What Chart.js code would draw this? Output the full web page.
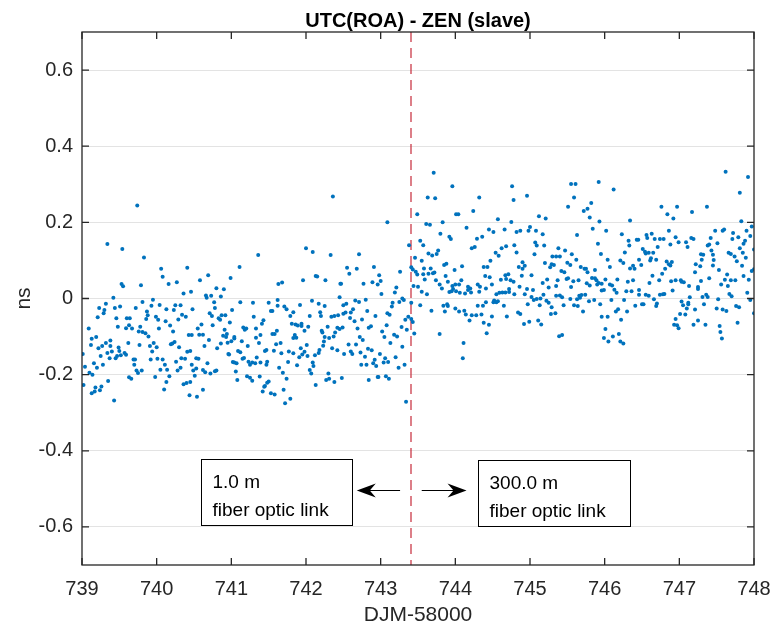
<!DOCTYPE html>
<html>
<head>
<meta charset="utf-8">
<script src="https://cdn.jsdelivr.net/npm/chart.js@4"></script>
<style>
  html, body { margin: 0; padding: 0; background: #fff; }
  canvas { display: block; }
</style>
</head>
<body>
<canvas id="chart" width="774" height="630"></canvas>
<script>
// UTC(ROA) - ZEN time offset, [DJM-58000, ns]
// before the fibre swap (1.0 m link)
const shortLink = [
  [739.74,0.244],[739.34,0.143],[739.54,0.130],[739.83,0.108],[740.06,0.078],[740.08,0.057],[740.41,0.081],[740.16,0.038],
  [740.27,0.043],[739.53,0.038],[739.55,0.032],[739.79,0.035],[740.36,0.013],[740.46,0.018],[739.42,0.002],[739.81,-0.009],
  [739.95,-0.003],[740.04,-0.017],[739.32,-0.014],[739.23,-0.025],[739.30,-0.030],[739.29,-0.039],[739.44,-0.025],[739.51,-0.021],
  [739.72,-0.025],[739.93,-0.019],[740.13,-0.028],[740.23,-0.030],[740.25,-0.018],[740.32,-0.018],[740.48,-0.028],[739.21,-0.049],
  [739.46,-0.052],[739.60,-0.052],[739.64,-0.052],[739.87,-0.034],[739.88,-0.044],[739.86,-0.054],[739.99,-0.048],[740.02,-0.056],
  [740.12,-0.060],[740.18,-0.071],[740.34,-0.043],[740.39,-0.048],[740.29,-0.055],[739.09,-0.079],[739.48,-0.074],[739.59,-0.078],
  [739.63,-0.070],[739.67,-0.079],[739.78,-0.074],[739.76,-0.087],[739.81,-0.088],[739.85,-0.091],[740.03,-0.079],[740.22,-0.087],
  [739.89,-0.100],[740.43,-0.096],[739.13,-0.106],[739.19,-0.101],[739.12,-0.122],[739.22,-0.131],[739.27,-0.125],[739.32,-0.117],
  [739.38,-0.110],[739.38,-0.125],[739.62,-0.117],[739.77,-0.122],[739.91,-0.125],[739.96,-0.117],[740.00,-0.128],[740.19,-0.120],
  [740.21,-0.118],[740.24,-0.114],[740.30,-0.128],[739.34,-0.143],[739.40,-0.139],[739.49,-0.129],[739.50,-0.138],[739.45,-0.157],
  [739.47,-0.151],[739.52,-0.149],[739.57,-0.143],[739.59,-0.148],[739.94,-0.139],[740.41,-0.140],[739.25,-0.151],[739.37,-0.157],
  [739.01,-0.146],[739.69,-0.160],[739.71,-0.160],[739.92,-0.160],[740.01,-0.158],[740.08,-0.160],[740.26,-0.166],[740.33,-0.157],
  [740.38,-0.158],[740.53,-0.157],[739.16,-0.170],[739.20,-0.182],[739.28,-0.174],[739.70,-0.174],[740.11,-0.174],[740.05,-0.187],
  [740.14,-0.187],[740.32,-0.182],[740.28,-0.189],[739.04,-0.179],[739.10,-0.195],[739.14,-0.200],[739.73,-0.189],[739.75,-0.196],
  [739.80,-0.189],[740.47,-0.174],[740.49,-0.189],[740.51,-0.203],[739.98,-0.206],[740.17,-0.204],[739.63,-0.207],[739.66,-0.211],
  [739.35,-0.217],[740.13,-0.219],[739.02,-0.227],[740.36,-0.225],[740.40,-0.222],[740.45,-0.219],[739.18,-0.234],[739.26,-0.231],
  [739.24,-0.241],[739.17,-0.244],[739.13,-0.249],[740.10,-0.239],[740.44,-0.254],[739.43,-0.268],
  [741.36,0.114],[741.11,0.083],[740.69,0.061],[740.58,0.048],[740.99,0.054],[740.80,0.027],[740.90,0.024],[740.66,0.008],
  [740.67,0.002],[740.73,0.007],[740.86,0.005],[741.63,0.038],[741.68,0.042],[741.62,-0.004],[741.62,-0.019],[740.77,-0.010],
  [740.78,-0.025],[740.71,-0.039],[740.74,-0.046],[741.12,-0.010],[741.29,-0.011],[741.50,-0.011],[741.53,-0.033],[741.55,-0.033],
  [741.71,-0.021],[741.74,-0.028],[741.01,-0.030],[741.30,-0.048],[741.79,-0.046],[741.83,-0.036],[740.87,-0.044],[740.92,-0.044],
  [740.83,-0.052],[740.85,-0.056],[740.75,-0.070],[740.60,-0.068],[740.98,-0.063],[740.91,-0.082],[740.94,-0.093],[740.89,-0.098],
  [740.93,-0.101],[741.16,-0.076],[741.18,-0.082],[741.20,-0.079],[741.33,-0.079],[741.43,-0.057],[741.41,-0.066],[741.33,-0.103],
  [741.39,-0.096],[741.55,-0.093],[741.58,-0.093],[741.61,-0.085],[741.81,-0.066],[741.86,-0.068],[741.89,-0.071],[741.85,-0.096],
  [741.87,-0.103],[741.83,-0.104],[740.57,-0.095],[740.62,-0.095],[740.47,-0.096],[740.55,-0.079],[740.70,-0.109],[740.64,-0.125],
  [740.81,-0.131],[740.86,-0.118],[740.95,-0.116],[741.00,-0.112],[741.04,-0.101],[741.04,-0.105],[741.14,-0.112],[741.22,-0.125],
  [741.37,-0.117],[741.60,-0.120],[741.66,-0.117],[740.96,-0.146],[740.97,-0.147],[741.09,-0.138],[741.12,-0.141],[741.15,-0.158],
  [741.17,-0.156],[741.45,-0.138],[741.47,-0.135],[741.57,-0.137],[741.77,-0.139],[741.83,-0.144],[741.67,-0.144],[741.91,-0.154],
  [740.45,-0.138],[740.56,-0.158],[741.02,-0.167],[741.07,-0.170],[741.04,-0.168],[741.23,-0.166],[741.25,-0.174],[741.28,-0.168],
  [741.32,-0.170],[741.39,-0.168],[741.48,-0.166],[741.47,-0.174],[741.34,-0.155],[741.64,-0.182],[741.76,-0.167],[741.88,-0.175],
  [740.53,-0.184],[740.62,-0.188],[740.65,-0.194],[740.68,-0.170],[740.78,-0.191],[740.80,-0.189],[740.72,-0.197],[741.06,-0.192],
  [741.21,-0.204],[741.25,-0.208],[741.28,-0.216],[741.08,-0.214],[741.38,-0.205],[741.69,-0.195],[741.74,-0.211],[741.50,-0.218],
  [741.48,-0.221],[741.45,-0.230],[741.44,-0.232],[741.42,-0.244],[741.53,-0.249],[741.58,-0.252],[741.70,-0.240],[741.79,-0.263],
  [741.72,-0.275],[740.54,-0.258],[740.62,-0.240],
  [742.36,0.268],[743.09,0.200],[743.38,0.140],[742.00,0.132],[742.09,0.122],[742.33,0.114],[742.71,0.116],[742.55,0.081],
  [742.68,0.078],[742.91,0.083],[743.26,0.070],[742.58,0.065],[742.98,0.061],[741.96,0.048],[742.13,0.059],[742.15,0.058],
  [742.26,0.048],[742.46,0.039],[742.47,0.039],[742.77,0.039],[742.89,0.043],[742.96,0.037],[743.00,0.046],[743.21,0.029],
  [743.19,0.016],[743.01,0.012],[742.45,0.003],[741.92,-0.017],[742.08,-0.006],[742.17,-0.014],[742.25,-0.020],[742.50,-0.018],
  [742.54,-0.014],[742.66,-0.005],[742.71,-0.009],[742.80,-0.003],[743.16,-0.011],[743.25,-0.009],[743.29,0.000],[743.31,-0.004],
  [742.19,-0.036],[742.20,-0.046],[742.05,-0.046],[742.34,-0.048],[742.38,-0.046],[742.43,-0.044],[742.50,-0.040],[742.53,-0.037],
  [742.59,-0.051],[742.63,-0.028],[742.60,-0.037],[742.65,-0.060],[742.75,-0.055],[742.82,-0.033],[742.93,-0.046],[743.09,-0.039],
  [743.12,-0.043],[743.15,-0.021],[743.33,-0.056],[743.37,-0.048],[741.94,-0.066],[741.94,-0.072],[741.98,-0.085],[742.03,-0.074],
  [742.21,-0.085],[742.22,-0.089],[742.29,-0.074],[742.25,-0.101],[742.31,-0.104],[742.37,-0.100],[742.39,-0.089],[742.42,-0.077],
  [742.45,-0.080],[742.49,-0.076],[742.69,-0.079],[742.72,-0.101],[742.76,-0.109],[742.84,-0.077],[742.87,-0.073],[743.02,-0.087],
  [743.05,-0.101],[743.08,-0.070],[743.13,-0.117],[743.18,-0.095],[743.22,-0.100],[743.28,-0.075],[743.35,-0.082],[741.93,-0.131],
  [742.01,-0.122],[741.98,-0.140],[742.02,-0.151],[741.95,-0.147],[742.12,-0.149],[742.17,-0.143],[742.18,-0.135],[742.23,-0.124],
  [742.24,-0.113],[742.35,-0.131],[742.42,-0.136],[742.51,-0.146],[742.57,-0.121],[742.60,-0.139],[742.62,-0.146],[742.67,-0.121],
  [742.73,-0.142],[742.79,-0.153],[742.83,-0.132],[742.88,-0.136],[742.99,-0.146],[743.06,-0.157],[743.04,-0.168],[742.92,-0.161],
  [742.90,-0.170],[742.94,-0.177],[742.74,-0.174],[742.81,-0.174],[743.20,-0.154],[743.24,-0.182],[743.29,-0.127],[743.32,-0.174],
  [743.10,-0.167],[742.09,-0.168],[742.10,-0.177],[742.05,-0.188],[742.07,-0.197],[742.13,-0.227],[742.30,-0.197],[742.27,-0.214],
  [742.31,-0.211],[742.38,-0.219],[742.48,-0.209],[742.84,-0.214],[742.96,-0.206],[742.97,-0.206],[743.07,-0.204],[743.11,-0.211],
  [743.34,-0.271]
];

// after the swap (300.0 m link)
const longLink = [
  [743.71,0.330],[743.96,0.295],[744.76,0.295],[743.63,0.265],[743.73,0.263],[744.32,0.265],[744.78,0.259],[743.49,0.221],
  [744.01,0.221],[744.04,0.221],[744.24,0.230],[744.57,0.208],[744.75,0.201],[743.61,0.196],[743.66,0.194],[743.83,0.200],
  [744.15,0.186],[744.45,0.181],[744.51,0.175],[744.66,0.181],[744.82,0.175],[744.87,0.178],[743.80,0.170],[743.92,0.162],
  [743.94,0.156],[744.29,0.157],[744.36,0.162],[743.53,0.152],[743.57,0.140],[744.79,0.140],[744.22,0.132],[744.26,0.135],
  [744.62,0.132],[744.68,0.137],[743.77,0.126],[743.75,0.117],[743.64,0.118],[743.69,0.113],[744.82,0.121],[743.46,0.107],
  [743.55,0.099],[743.85,0.088],[743.88,0.091],[744.09,0.085],[744.47,0.099],[744.54,0.120],[744.58,0.112],[744.90,0.095],
  [744.93,0.086],[743.58,0.079],[743.67,0.079],[743.72,0.068],[743.70,0.066],[743.99,0.075],[744.38,0.083],[744.43,0.083],
  [744.85,0.083],[744.89,0.060],[743.41,0.082],[743.43,0.076],[743.47,0.070],[743.49,0.063],[743.57,0.064],[743.64,0.065],
  [743.87,0.059],[744.40,0.059],[744.46,0.056],[744.67,0.061],[744.71,0.064],[744.68,0.051],[744.74,0.048],[744.78,0.044],
  [743.59,0.050],[743.74,0.048],[743.79,0.037],[743.82,0.026],[743.90,0.044],[743.96,0.033],[744.00,0.037],[744.05,0.037],
  [744.08,0.048],[744.49,0.037],[744.61,0.049],[744.86,0.031],[743.44,0.033],[743.50,0.031],[743.97,0.025],[743.95,0.019],
  [744.01,0.019],[743.92,0.017],[744.06,0.015],[744.13,0.013],[744.17,0.031],[744.20,0.026],[744.17,0.022],[744.21,0.016],
  [744.30,0.037],[744.33,0.031],[744.32,0.018],[744.41,0.026],[744.55,0.011],[744.59,0.015],[744.63,0.016],[744.67,0.016],
  [744.72,0.025],[744.72,0.017],[744.79,0.011],[744.93,0.011],[743.55,0.018],[743.62,0.011],[743.41,-0.011],[743.53,-0.018],
  [743.68,-0.032],[743.84,-0.019],[743.89,-0.015],[743.90,-0.020],[743.86,-0.034],[744.00,-0.026],[744.05,-0.034],[744.12,-0.032],
  [744.14,-0.042],[744.19,-0.058],[744.11,-0.117],[744.10,-0.157],[744.22,-0.044],[744.28,-0.044],[744.30,-0.019],[744.35,-0.042],
  [744.37,-0.019],[744.38,-0.064],[744.45,-0.069],[744.41,-0.010],[744.42,-0.091],[744.49,-0.047],[744.51,-0.010],[744.52,-0.005],
  [744.55,-0.010],[744.57,-0.007],[744.65,-0.019],[744.69,-0.047],[744.84,-0.037],[744.87,-0.041],[744.92,-0.067],[743.41,-0.054],
  [743.43,-0.062],[743.45,-0.092],[743.79,-0.093],
  [745.55,0.301],[745.61,0.301],[745.92,0.306],[746.12,0.286],[744.96,0.270],[745.59,0.265],[745.82,0.251],[745.51,0.241],
  [745.72,0.230],[745.77,0.236],[745.80,0.213],[745.12,0.216],[745.21,0.210],[745.93,0.202],[746.34,0.205],[745.00,0.188],
  [744.98,0.178],[745.08,0.178],[745.17,0.169],[745.84,0.183],[746.02,0.178],[745.63,0.167],[746.23,0.169],[746.32,0.152],
  [746.33,0.139],[745.91,0.144],[745.07,0.147],[745.09,0.139],[745.19,0.139],[745.38,0.132],[745.47,0.126],[745.56,0.116],
  [746.27,0.121],[745.06,0.116],[745.95,0.117],[745.30,0.110],[745.35,0.110],[745.40,0.110],[745.62,0.102],[746.04,0.102],
  [746.21,0.100],[746.25,0.093],[745.20,0.093],[745.50,0.094],[745.54,0.088],[746.07,0.083],[745.29,0.090],[745.32,0.088],
  [745.27,0.082],[744.90,0.078],[745.68,0.083],[745.73,0.078],[745.75,0.078],[746.38,0.086],[746.40,0.078],[746.34,0.079],
  [745.42,0.072],[745.46,0.069],[745.87,0.075],[745.77,0.069],[745.02,0.061],[745.83,0.054],[745.87,0.053],[745.89,0.048],
  [745.49,0.051],[745.51,0.053],[745.58,0.045],[745.65,0.048],[745.37,0.048],[745.23,0.050],[745.17,0.041],[746.01,0.050],
  [746.17,0.050],[746.31,0.044],[746.38,0.048],[745.76,0.040],[745.80,0.034],[745.96,0.039],[745.90,0.037],[745.92,0.041],
  [746.07,0.037],[746.10,0.034],[744.96,0.025],[745.25,0.029],[745.35,0.033],[745.55,0.030],[746.13,0.023],[746.16,0.015],
  [745.04,0.022],[745.96,0.021],[745.99,0.022],[746.29,0.019],[746.36,0.019],[745.18,0.010],[745.14,0.000],[745.02,0.004],
  [745.05,-0.004],[745.09,-0.001],[745.35,0.007],[745.40,0.008],[745.43,0.003],[745.54,-0.001],[745.66,0.007],[745.69,0.009],
  [745.74,0.010],[745.67,0.002],[745.63,-0.002],[745.59,-0.018],[745.64,-0.020],[745.79,-0.007],[745.86,-0.004],[746.09,-0.004],
  [746.26,-0.004],[745.22,-0.006],[745.25,-0.011],[745.13,-0.018],[744.97,-0.015],[745.29,-0.023],[745.45,-0.018],[745.94,-0.015],
  [746.41,-0.019],[745.34,-0.039],[745.28,-0.041],[745.71,-0.034],[746.15,-0.034],[746.18,-0.028],[746.30,-0.034],[745.96,-0.048],
  [746.04,-0.048],[746.22,-0.056],[744.99,-0.061],[745.11,-0.058],[745.15,-0.068],[746.01,-0.080],[745.39,-0.099],[745.43,-0.096],
  [745.99,-0.104],[746.05,-0.113],[746.11,-0.100],[746.19,-0.093],[746.21,-0.113],[746.25,-0.118],
  [747.62,0.333],[747.92,0.319],[747.81,0.278],[746.76,0.241],[746.97,0.241],[747.37,0.241],[746.84,0.221],[747.17,0.227],
  [746.92,0.210],[747.83,0.203],[747.97,0.189],[746.86,0.178],[747.90,0.178],[747.48,0.178],[747.58,0.178],[747.60,0.181],
  [746.63,0.170],[746.56,0.167],[746.57,0.159],[747.72,0.172],[747.95,0.164],[747.79,0.161],[747.71,0.156],[746.95,0.161],
  [746.67,0.156],[746.74,0.156],[746.79,0.156],[747.16,0.159],[747.19,0.156],[747.42,0.159],[746.43,0.154],[746.45,0.154],
  [746.99,0.148],[747.09,0.148],[747.88,0.152],[747.86,0.144],[746.88,0.142],[747.51,0.145],[747.40,0.142],[747.38,0.139],
  [747.11,0.135],[747.43,0.126],[747.81,0.132],[746.71,0.135],[746.51,0.130],[746.54,0.123],[746.55,0.118],[746.59,0.120],
  [746.65,0.120],[747.45,0.115],[747.46,0.101],[747.45,0.087],[748.00,0.129],[747.66,0.120],[747.69,0.117],[747.74,0.110],
  [747.85,0.120],[747.89,0.107],[746.46,0.102],[746.49,0.088],[746.62,0.106],[746.61,0.100],[746.69,0.102],[746.83,0.097],
  [746.86,0.090],[746.88,0.087],[746.90,0.096],[746.81,0.078],[746.77,0.065],[747.32,0.115],[747.30,0.102],[747.29,0.116],
  [747.22,0.090],[747.28,0.085],[747.53,0.075],[747.77,0.098],[747.84,0.086],[746.64,0.060],[746.73,0.048],[747.21,0.069],
  [747.29,0.046],[747.25,0.030],[747.25,0.025],[747.40,0.053],[747.64,0.063],[747.61,0.049],[747.69,0.048],[747.75,0.048],
  [747.86,0.059],[747.93,0.049],[748.00,0.077],[747.97,0.072],[747.56,0.037],[747.65,0.033],[746.89,0.045],[746.95,0.048],
  [747.02,0.048],[747.03,0.044],[747.06,0.043],[747.13,0.033],[746.91,0.021],[746.60,0.041],[746.46,0.022],[746.46,0.010],
  [746.55,0.010],[746.59,0.007],[746.74,0.010],[746.78,0.011],[746.80,0.012],[747.14,0.003],[747.31,0.004],[747.36,0.010],
  [747.38,0.004],[747.52,-0.002],[747.67,0.012],[747.70,0.006],[747.91,0.015],[747.95,-0.004],[746.50,-0.015],[746.52,-0.015],
  [746.66,-0.002],[746.69,-0.020],[746.70,-0.013],[747.03,-0.008],[747.05,-0.018],[747.12,-0.011],[747.12,-0.015],[747.10,-0.026],
  [747.08,-0.042],[747.01,-0.041],[746.95,-0.054],[746.97,-0.070],[746.93,-0.069],[746.99,-0.078],[747.21,-0.029],[747.25,-0.058],
  [747.19,-0.069],[747.33,-0.015],[747.35,-0.069],[747.50,-0.026],[747.54,-0.072],[747.55,-0.088],[747.57,-0.105],[747.58,-0.029],
  [747.63,-0.033],[747.76,-0.020],[747.80,-0.023],[747.78,-0.064],[748.00,-0.039]
];

const xTicks = [739, 740, 741, 742, 743, 744, 745, 746, 747, 748];
const yTicks = [-0.6, -0.4, -0.2, 0, 0.2, 0.4, 0.6];
const switchDay = 743.41; // link changed here

const ink = "#262626";
const font = '"Liberation Sans", Arial, sans-serif';

// text boxes + arrows, placed in data units
const notes = [
  { x0: 740.59, x1: 742.62, y0: -0.421, y1: -0.596, lines: ["1.0 m", "fiber optic link"] },
  { x0: 744.30, x1: 746.34, y0: -0.423, y1: -0.598, lines: ["300.0 m", "fiber optic link"] },
];
const arrows = [
  { from: 743.26, to: 742.68, y: -0.504 },
  { from: 743.55, to: 744.15, y: -0.504 },
];

const toPoints = (rows) => rows.map(([d, v]) => ({ x: d, y: v }));

// divider line, frame, ticks, title, notes
const decorations = {
  id: "decorations",
  beforeDatasetsDraw(chart) {
    const { ctx, chartArea: a, scales: { x } } = chart;
    const px = Math.round(x.getPixelForValue(switchDay));
    ctx.save();
    ctx.strokeStyle = "#c62a3a";
    ctx.lineWidth = 1.2;
    ctx.setLineDash([10, 6]);
    ctx.beginPath();
    ctx.moveTo(px, a.top);
    ctx.lineTo(px, a.bottom);
    ctx.stroke();
    ctx.restore();
  },
  afterDraw(chart) {
    const { ctx, chartArea: a, scales: { x, y } } = chart;
    ctx.save();

    // axes box with inward ticks
    ctx.strokeStyle = ink;
    ctx.lineWidth = 1.3;
    ctx.strokeRect(a.left, a.top, a.right - a.left, a.bottom - a.top);
    ctx.beginPath();
    xTicks.forEach((t) => {
      const px = x.getPixelForValue(t);
      ctx.moveTo(px, a.bottom); ctx.lineTo(px, a.bottom - 7);
      ctx.moveTo(px, a.top); ctx.lineTo(px, a.top + 7);
    });
    yTicks.forEach((t) => {
      const py = y.getPixelForValue(t);
      ctx.moveTo(a.left, py); ctx.lineTo(a.left + 7, py);
      ctx.moveTo(a.right, py); ctx.lineTo(a.right - 7, py);
    });
    ctx.stroke();

    // title
    ctx.fillStyle = "#000";
    ctx.font = `bold 20px ${font}`;
    ctx.textAlign = "center";
    ctx.textBaseline = "middle";
    ctx.fillText("UTC(ROA) - ZEN (slave)", (a.left + a.right) / 2, 21);

    // text boxes
    ctx.strokeStyle = "#000";
    ctx.lineWidth = 1;
    ctx.font = `19px ${font}`;
    ctx.textAlign = "left";
    ctx.textBaseline = "alphabetic";
    notes.forEach((n) => {
      const l = Math.round(x.getPixelForValue(n.x0)) + 0.5;
      const r = Math.round(x.getPixelForValue(n.x1)) + 0.5;
      const t = Math.round(y.getPixelForValue(n.y0)) + 0.5;
      const b = Math.round(y.getPixelForValue(n.y1)) + 0.5;
      ctx.strokeRect(l, t, r - l, b - t);
      n.lines.forEach((line, i) => ctx.fillText(line, l + 11, t + 28 + i * 28));
    });

    // arrows
    arrows.forEach((ar) => {
      const x0 = x.getPixelForValue(ar.from);
      const x1 = x.getPixelForValue(ar.to);
      const py = Math.round(y.getPixelForValue(ar.y)) + 0.5;
      const dir = Math.sign(x1 - x0);
      ctx.beginPath();
      ctx.moveTo(x0, py);
      ctx.lineTo(x1 - dir * 10, py);
      ctx.stroke();
      ctx.beginPath();
      ctx.moveTo(x1, py);
      ctx.lineTo(x1 - dir * 19, py - 7);
      ctx.lineTo(x1 - dir * 13, py);
      ctx.lineTo(x1 - dir * 19, py + 7);
      ctx.closePath();
      ctx.fillStyle = "#000";
      ctx.fill();
    });

    ctx.restore();
  },
};

const whiteBg = {
  id: "whiteBg",
  beforeDraw(chart) {
    const { ctx } = chart;
    ctx.save();
    ctx.fillStyle = "#fff";
    ctx.fillRect(0, 0, chart.width, chart.height);
    ctx.restore();
  },
};

const dotStyle = {
  pointRadius: 2,
  pointBackgroundColor: "#0072BD",
  pointBorderWidth: 0,
  showLine: false,
};

new Chart(document.getElementById("chart").getContext("2d"), {
  type: "scatter",
  data: {
    datasets: [
      { label: "1.0 m link", data: toPoints(shortLink), ...dotStyle },
      { label: "300.0 m link", data: toPoints(longLink), ...dotStyle },
    ],
  },
  options: {
    responsive: false,
    animation: false,
    devicePixelRatio: 1,
    layout: { padding: { top: 32, right: 20, left: 0, bottom: 0 } },
    plugins: {
      legend: { display: false },
      tooltip: { enabled: false },
    },
    scales: {
      x: {
        type: "linear",
        min: 739,
        max: 748,
        afterBuildTicks: (scale) => { scale.ticks = xTicks.map((v) => ({ value: v })); },
        afterFit: (scale) => {
          scale.height = 65;
          scale.paddingLeft = 0;
          scale.paddingRight = 0;
        },
        grid: { display: false, drawTicks: false },
        border: { display: false },
        ticks: { color: ink, padding: 12, maxRotation: 0, font: { family: font, size: 20 } },
        title: {
          display: true,
          text: "DJM-58000",
          color: ink,
          font: { family: font, size: 21 },
          padding: { top: 0, bottom: 2 },
        },
      },
      y: {
        min: -0.7,
        max: 0.7,
        afterBuildTicks: (scale) => { scale.ticks = yTicks.map((v) => ({ value: v })); },
        afterFit: (scale) => { scale.width = 82; },
        grid: { color: "#e3e3e3", lineWidth: 1, drawTicks: false },
        border: { display: false },
        ticks: {
          color: ink,
          padding: 9,
          font: { family: font, size: 20 },
          callback: (v) => (Math.abs(v) < 1e-9 ? "0" : Number(v).toFixed(1)),
        },
        title: {
          display: true,
          text: "ns",
          color: ink,
          font: { family: font, size: 21 },
          padding: { top: 12, bottom: 0 },
        },
      },
    },
  },
  plugins: [whiteBg, decorations],
});
</script>
</body>
</html>
